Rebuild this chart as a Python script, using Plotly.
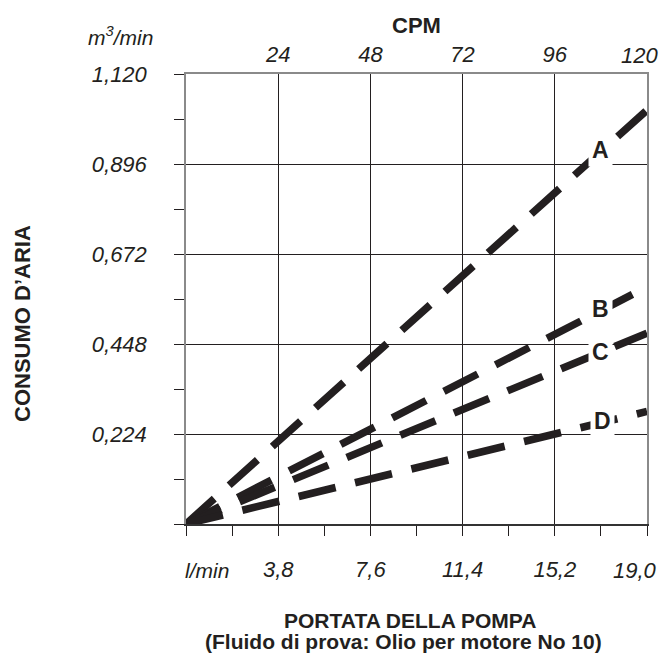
import plotly.graph_objects as go

# ---- data ----
flow_lpm = [0.0, 19.0]                 # l/min, bottom axis
consumo_A = [0.0, 1.03]                # m3/min
consumo_B = [0.0, 0.59]
consumo_C = [0.0, 0.475]
consumo_D = [0.0, 0.28]
series_names = ["A", "B", "C", "D"]

x_major = [3.8, 7.6, 11.4, 15.2, 19.0]
x_major_text = ["3,8", "7,6", "11,4", "15,2", "19,0"]
x_minor = [0.0, 1.9, 5.7, 9.5, 13.3, 17.1]

y_major = [0.224, 0.448, 0.672, 0.896, 1.120]
y_major_text = ["0,224", "0,448", "0,672", "0,896", "1,120"]
y_minor = [0.0, 0.112, 0.336, 0.560, 0.784, 1.008]

cpm_ticks = [24, 48, 72, 96, 120]
cpm_text = ["24", "48", "72", "96", "120"]
cpm_range = [0, 120]

FONT = "Liberation Sans, Arial, Helvetica, sans-serif"
GRAY = "#8a8a8a"

fig = go.Figure()
for name, ys in zip(series_names, [consumo_A, consumo_B, consumo_C, consumo_D]):
    fig.add_trace(go.Scatter(
        x=flow_lpm, y=ys, mode="lines", name=name,
        line=dict(color="#231f20", width=7.5, dash="38px,20px"),
        hoverinfo="skip", showlegend=False))

# invisible trace to carry the top CPM axis
fig.add_trace(go.Scatter(x=cpm_range, y=[0, 0], xaxis="x2", mode="lines",
                         line=dict(width=0), hoverinfo="skip", showlegend=False))

tick_font = dict(family=FONT, size=22, color="#231f20", style="italic")

fig.update_layout(
    width=662, height=657,
    margin=dict(l=186, r=15, t=74, b=133, autoexpand=False),
    paper_bgcolor="white", plot_bgcolor="white",
    xaxis=dict(
        range=[0, 19], tickmode="array", tickvals=x_major[:-1], ticktext=x_major_text[:-1],
        ticks="outside", ticklen=10, tickcolor="#231f20", tickwidth=1.2,
        showgrid=True, gridcolor="#231f20", gridwidth=1, zeroline=False,
        showline=True, linecolor="#333333", linewidth=1.5, automargin=False,
        tickfont=tick_font, ticklabelstandoff=15,
        minor=dict(tickmode="array", tickvals=x_minor + x_major[-1:], ticks="outside",
                   ticklen=10, tickcolor="#231f20", tickwidth=1.2, showgrid=False),
    ),
    xaxis2=dict(
        range=cpm_range, overlaying="x", side="top", tickmode="array",
        tickvals=cpm_ticks[:-1], ticktext=cpm_text[:-1], ticks="", showgrid=False,
        zeroline=False, showline=True, linecolor=GRAY, linewidth=1.5, automargin=False,
        tickfont=tick_font, ticklabelstandoff=1,
    ),
    yaxis=dict(
        range=[0, 1.12], tickmode="array", tickvals=y_major, ticktext=y_major_text,
        ticks="outside", ticklen=10, tickcolor="#231f20", tickwidth=1.2,
        showgrid=True, gridcolor="#231f20", gridwidth=1, zeroline=False,
        showline=True, linecolor=GRAY, linewidth=1.5, mirror=True, automargin=False,
        tickfont=tick_font, ticklabelstandoff=23,
        minor=dict(tickmode="array", tickvals=y_minor, ticks="outside", ticklen=10,
                   tickcolor="#231f20", tickwidth=1.2, showgrid=False),
    ),
)

W, L = 461.0, 186.0
H, T = 450.0, 74.0
def px(xp):
    return (xp - L) / W
def py(yp):
    return 1 - (yp - T) / H

bold = dict(family=FONT, size=22, color="#231f20", weight="bold")
ann = []
# curve labels with white boxes
for lab, (xv, yv) in zip(series_names, [(17.08, 0.930), (17.08, 0.535), (17.08, 0.428), (17.15, 0.257)]):
    ann.append(dict(x=xv, y=yv, xref="x", yref="y", text=lab, showarrow=False,
                    font=dict(family=FONT, size=23, color="#231f20", weight="bold"),
                    bgcolor="white", borderpad=3, xanchor="center", yanchor="middle"))
ann += [
    # end-of-axis tick labels, pulled inward so they stay on the page
    dict(x=x_major[-1], y=py(570), xref="x", yref="paper", text=x_major_text[-1],
         showarrow=False, font=tick_font, xanchor="right", yanchor="middle", xshift=12),
    dict(x=cpm_ticks[-1], y=py(55), xref="x2", yref="paper", text=cpm_text[-1],
         showarrow=False, font=tick_font, xanchor="right", yanchor="middle", xshift=13),
    dict(x=px(416), y=py(25), xref="paper", yref="paper", text="CPM", showarrow=False,
         font=bold, xanchor="center", yanchor="middle"),
    dict(x=px(120), y=py(36), xref="paper", yref="paper", text="m<sup>3</sup>/min",
         showarrow=False, font=dict(family=FONT, size=21, color="#231f20", style="italic"),
         xanchor="center", yanchor="middle"),
    dict(x=px(207), y=py(570), xref="paper", yref="paper", text="l/min", showarrow=False,
         font=dict(family=FONT, size=21, color="#231f20", style="italic"),
         xanchor="center", yanchor="middle"),
    dict(x=px(22), y=py(324), xref="paper", yref="paper", text="CONSUMO D’ARIA",
         showarrow=False, textangle=-90, font=bold, xanchor="center", yanchor="middle"),
    dict(x=px(410), y=py(620), xref="paper", yref="paper", text="PORTATA DELLA POMPA",
         showarrow=False, font=dict(family=FONT, size=21, color="#231f20", weight="bold"),
         xanchor="center", yanchor="middle"),
    dict(x=px(403), y=py(641), xref="paper", yref="paper",
         text="(Fluido di prova: Olio per motore No 10)", showarrow=False,
         font=dict(family=FONT, size=21, color="#231f20", weight="bold"),
         xanchor="center", yanchor="middle"),
]
fig.update_layout(annotations=ann)

fig.write_html("out.html", config={"displayModeBar": False},
               post_script="document.body.style.margin='0';document.body.style.padding='0';")
